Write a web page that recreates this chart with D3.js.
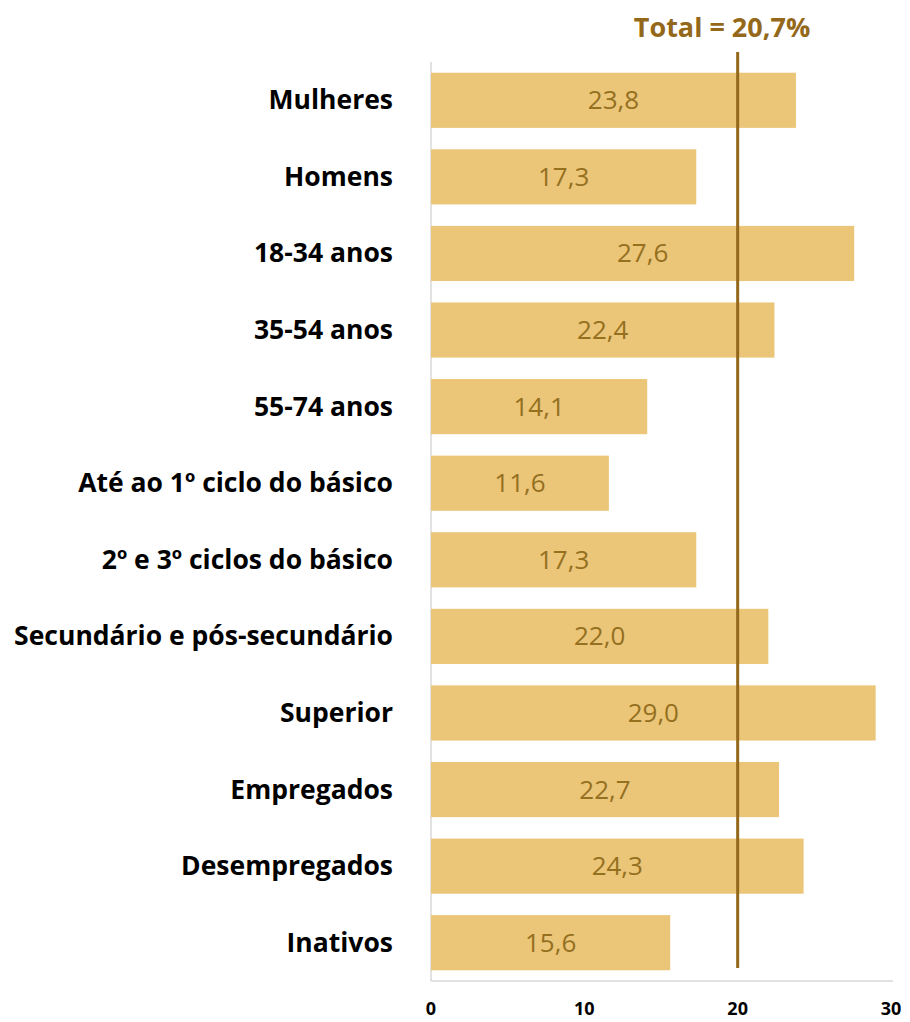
<!DOCTYPE html>
<html><head><meta charset="utf-8">
<script src="https://cdn.jsdelivr.net/npm/d3@7"></script>
<style>body{margin:0;background:#fff}svg{display:block}</style>
</head><body>
<script>
const categories = ["Mulheres","Homens","18-34 anos ","35-54 anos ","55-74 anos","Até ao 1º ciclo do básico","2º e 3º ciclos do básico","Secundário e pós-secundário","Superior","Empregados","Desempregados","Inativos"];
const values = [23.8,17.3,27.6,22.4,14.1,11.6,17.3,22.0,29.0,22.7,24.3,15.6];
const ticks = [0,10,20,30];
const totalLineValue = 20;
const totalLabel = "Total = 20,7%";

const W=910,H=1022;
const svg=d3.select("body").append("svg").attr("width",W).attr("height",H);
const font="'Open Sans', sans-serif";
const x=d3.scaleLinear().domain([0,30]).range([431,891]);
const y=d3.scaleBand().domain(categories).range([62,981]).paddingInner(0.28).paddingOuter(0.14);

svg.append("line").attr("x1",x(0)).attr("x2",x(0)).attr("y1",62).attr("y2",981).attr("stroke","#d9d9d9").attr("stroke-width",1.5);
svg.append("line").attr("x1",x(0)).attr("x2",893).attr("y1",981).attr("y2",981).attr("stroke","#d9d9d9").attr("stroke-width",1.5);

svg.selectAll("rect.bar").data(values).enter().append("rect")
 .attr("x",x(0)).attr("y",(d,i)=>y(categories[i])).attr("width",d=>x(d)-x(0)).attr("height",y.bandwidth()).attr("fill","#EBC578");

svg.selectAll("text.val").data(values).enter().append("text")
 .attr("x",d=>(x(0)+x(d))/2).attr("y",(d,i)=>y(categories[i])+y.bandwidth()/2+9)
 .attr("text-anchor","middle").attr("font-family",font).attr("font-size",26).attr("fill","#94701F")
 .text(d=>d3.format(".1f")(d).replace(".",","));

svg.selectAll("text.cat").data(categories).enter().append("text")
 .attr("x",393).attr("y",d=>y(d)+y.bandwidth()/2+9).attr("text-anchor","end")
 .attr("font-family",font).attr("font-weight","bold").attr("font-size",26.5).attr("fill","#000")
 .text(d=>d);

svg.selectAll("text.tick").data(ticks).enter().append("text")
 .attr("x",d=>x(d)).attr("y",1015).attr("text-anchor","middle")
 .attr("font-family",font).attr("font-weight","bold").attr("font-size",18).attr("fill","#000").text(d=>d);

svg.append("line").attr("x1",x(totalLineValue)).attr("x2",x(totalLineValue)).attr("y1",52).attr("y2",968)
 .attr("stroke","#94681A").attr("stroke-width",3);
svg.append("text").attr("x",722).attr("y",37).attr("text-anchor","middle").attr("font-family",font)
 .attr("font-weight","bold").attr("font-size",27).attr("fill","#94681A").text(totalLabel);
</script>
</body></html>
